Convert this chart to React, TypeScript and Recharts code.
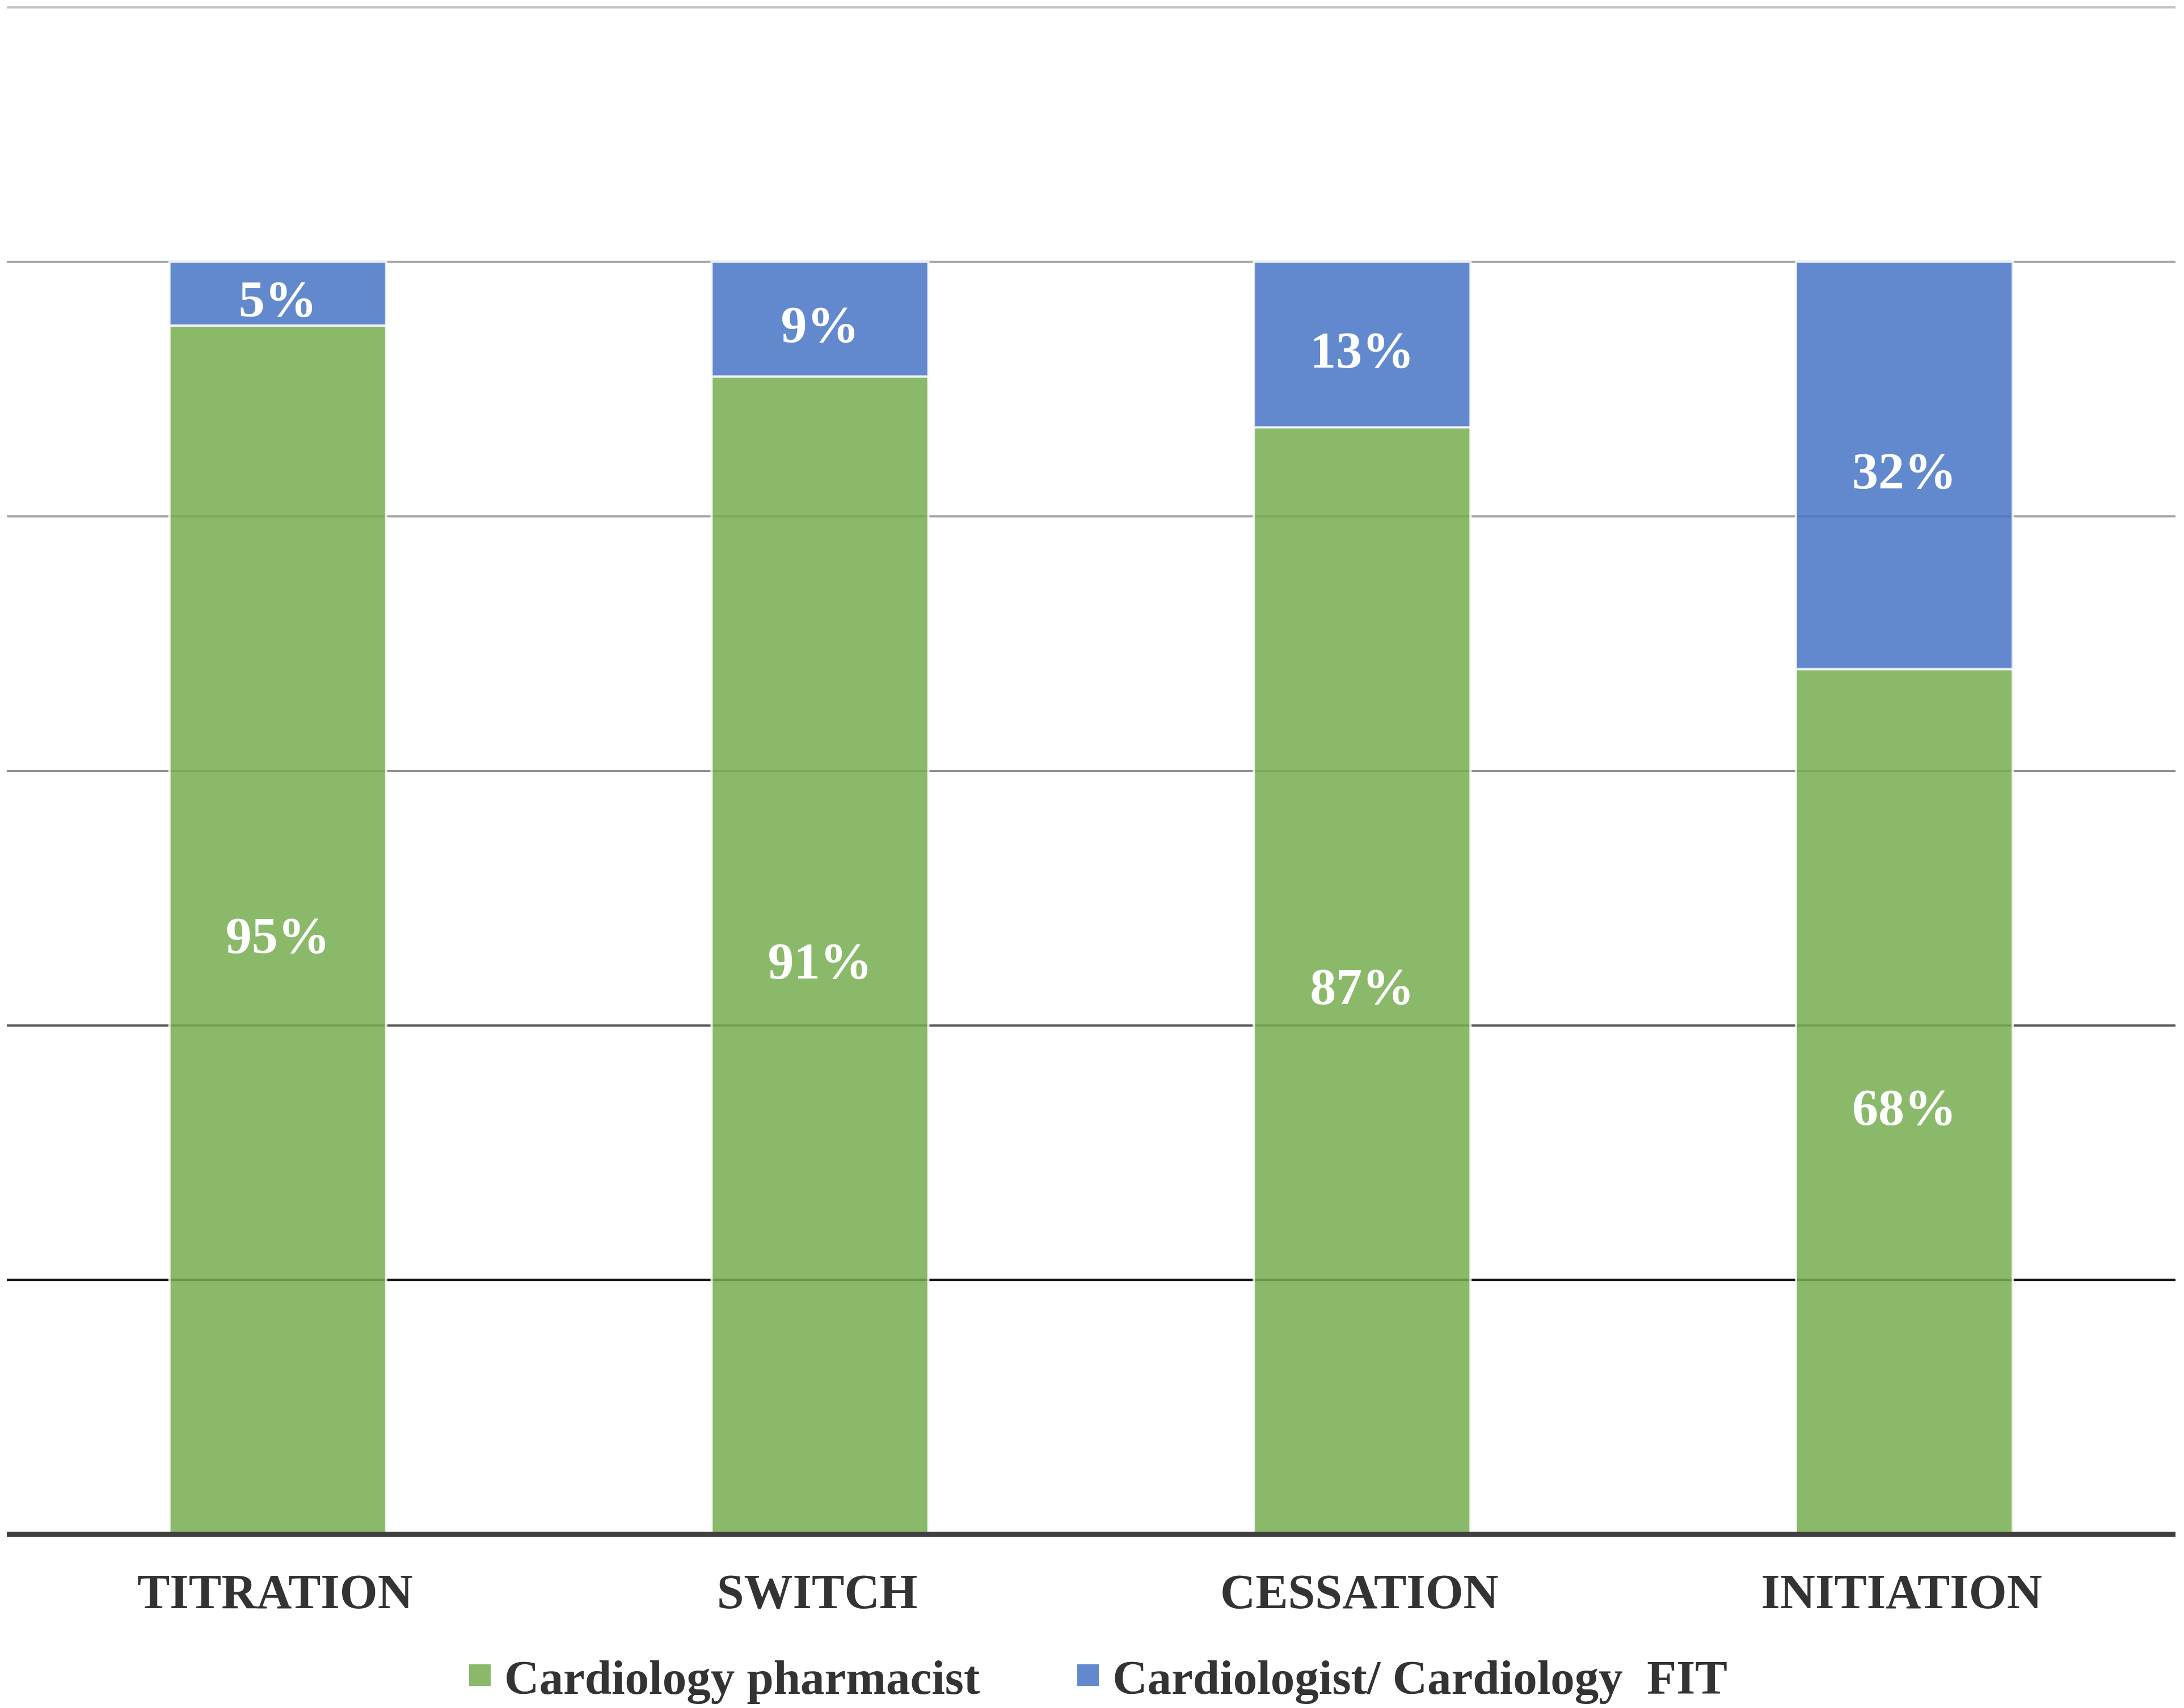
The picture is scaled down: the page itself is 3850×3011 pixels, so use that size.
import React from "react";
import { Bar, BarChart, CartesianGrid, LabelList, XAxis, YAxis } from "recharts";

const categories = ["TITRATION", "SWITCH", "CESSATION", "INITIATION"];
const pharmacist = [95, 91, 87, 68];
const cardiologist = [5, 9, 13, 32];
const yTicks = [0, 20, 40, 60, 80, 100, 120];

const seriesNames = ["Cardiology pharmacist", "Cardiologist/ Cardiology  FIT"];
const seriesColors = ["#75AD50", "#4774C4"];
const swatchColors = ["#8AB96A", "#6389CD"];

// gridline shade per tick value (the picture gets darker toward the bottom)
const gridColors: Record<number, string> = {
  20: "#141414",
  40: "#575757",
  60: "#8f8f8f",
  80: "#a3a3a3",
  100: "#a8a8a8",
  120: "#c4c4c4",
};

const data = categories.map((name, i) => ({
  name,
  pharmacist: pharmacist[i],
  cardiologist: cardiologist[i],
}));

const W = 3850;
const H = 3011;
const serif = '"Liberation Serif", "Times New Roman", serif';

const gridLine = (p: any) => {
  const v = Math.round(((p.y + p.height - p.y1) / p.height) * 120);
  if (v <= 0) return <g key={p.key} />;
  return (
    <line
      key={p.key}
      x1={p.x1}
      x2={p.x2}
      y1={p.y1}
      y2={p.y2}
      stroke={gridColors[v] ?? "#a8a8a8"}
      strokeWidth={4}
    />
  );
};

const CategoryTick = (p: any) => (
  <text
    x={p.x - 5}
    y={p.y + 130}
    textAnchor="middle"
    fontFamily={serif}
    fontWeight="bold"
    fontSize={86}
    fill="#333333"
  >
    {p.payload.value}
  </text>
);

const pct = (v: any) => `${v}%`;

const labelProps = {
  position: "center" as const,
  formatter: pct,
  fill: "#ffffff",
  fontFamily: serif,
  fontWeight: "bold",
  fontSize: 92,
  dy: 8,
};

export default function App() {
  return (
    <div style={{ position: "absolute", left: 0, top: 0, width: W, height: H, background: "#fff" }}>
      <BarChart
        width={W}
        height={H}
        data={data}
        margin={{ top: 13, right: 15, left: 12, bottom: 156 }}
        barCategoryGap="30%"
      >
        <CartesianGrid vertical={false} horizontal={gridLine} />
        <YAxis hide domain={[0, 120]} ticks={yTicks} />
        <Bar
          dataKey="pharmacist"
          stackId="a"
          fill={seriesColors[0]}
          fillOpacity={0.85}
          stroke="#ffffff"
          strokeOpacity={0.8}
          strokeWidth={4}
          isAnimationActive={false}
        >
          <LabelList dataKey="pharmacist" {...labelProps} />
        </Bar>
        <Bar
          dataKey="cardiologist"
          stackId="a"
          fill={seriesColors[1]}
          fillOpacity={0.85}
          stroke="#ffffff"
          strokeOpacity={0.8}
          strokeWidth={4}
          isAnimationActive={false}
        >
          <LabelList dataKey="cardiologist" {...labelProps} />
        </Bar>
        <XAxis
          dataKey="name"
          height={150}
          tickLine={false}
          tickSize={0}
          tickMargin={0}
          axisLine={{ stroke: "#404040", strokeWidth: 9 }}
          tick={CategoryTick}
          interval={0}
        />
      </BarChart>
      <div
        style={{
          position: "absolute",
          left: 11,
          top: 2913,
          width: W,
          display: "flex",
          justifyContent: "center",
          alignItems: "flex-start",
          gap: 172,
          fontFamily: serif,
          fontWeight: "bold",
          fontSize: 85,
          lineHeight: "88px",
          color: "#333333",
          whiteSpace: "pre",
        }}
      >
        {seriesNames.map((n, i) => (
          <div key={n} style={{ display: "flex", alignItems: "flex-start" }}>
            <div
              style={{
                width: 38,
                height: 38,
                marginTop: 21,
                marginRight: 24,
                background: swatchColors[i],
              }}
            />
            <span>{n}</span>
          </div>
        ))}
      </div>
    </div>
  );
}
